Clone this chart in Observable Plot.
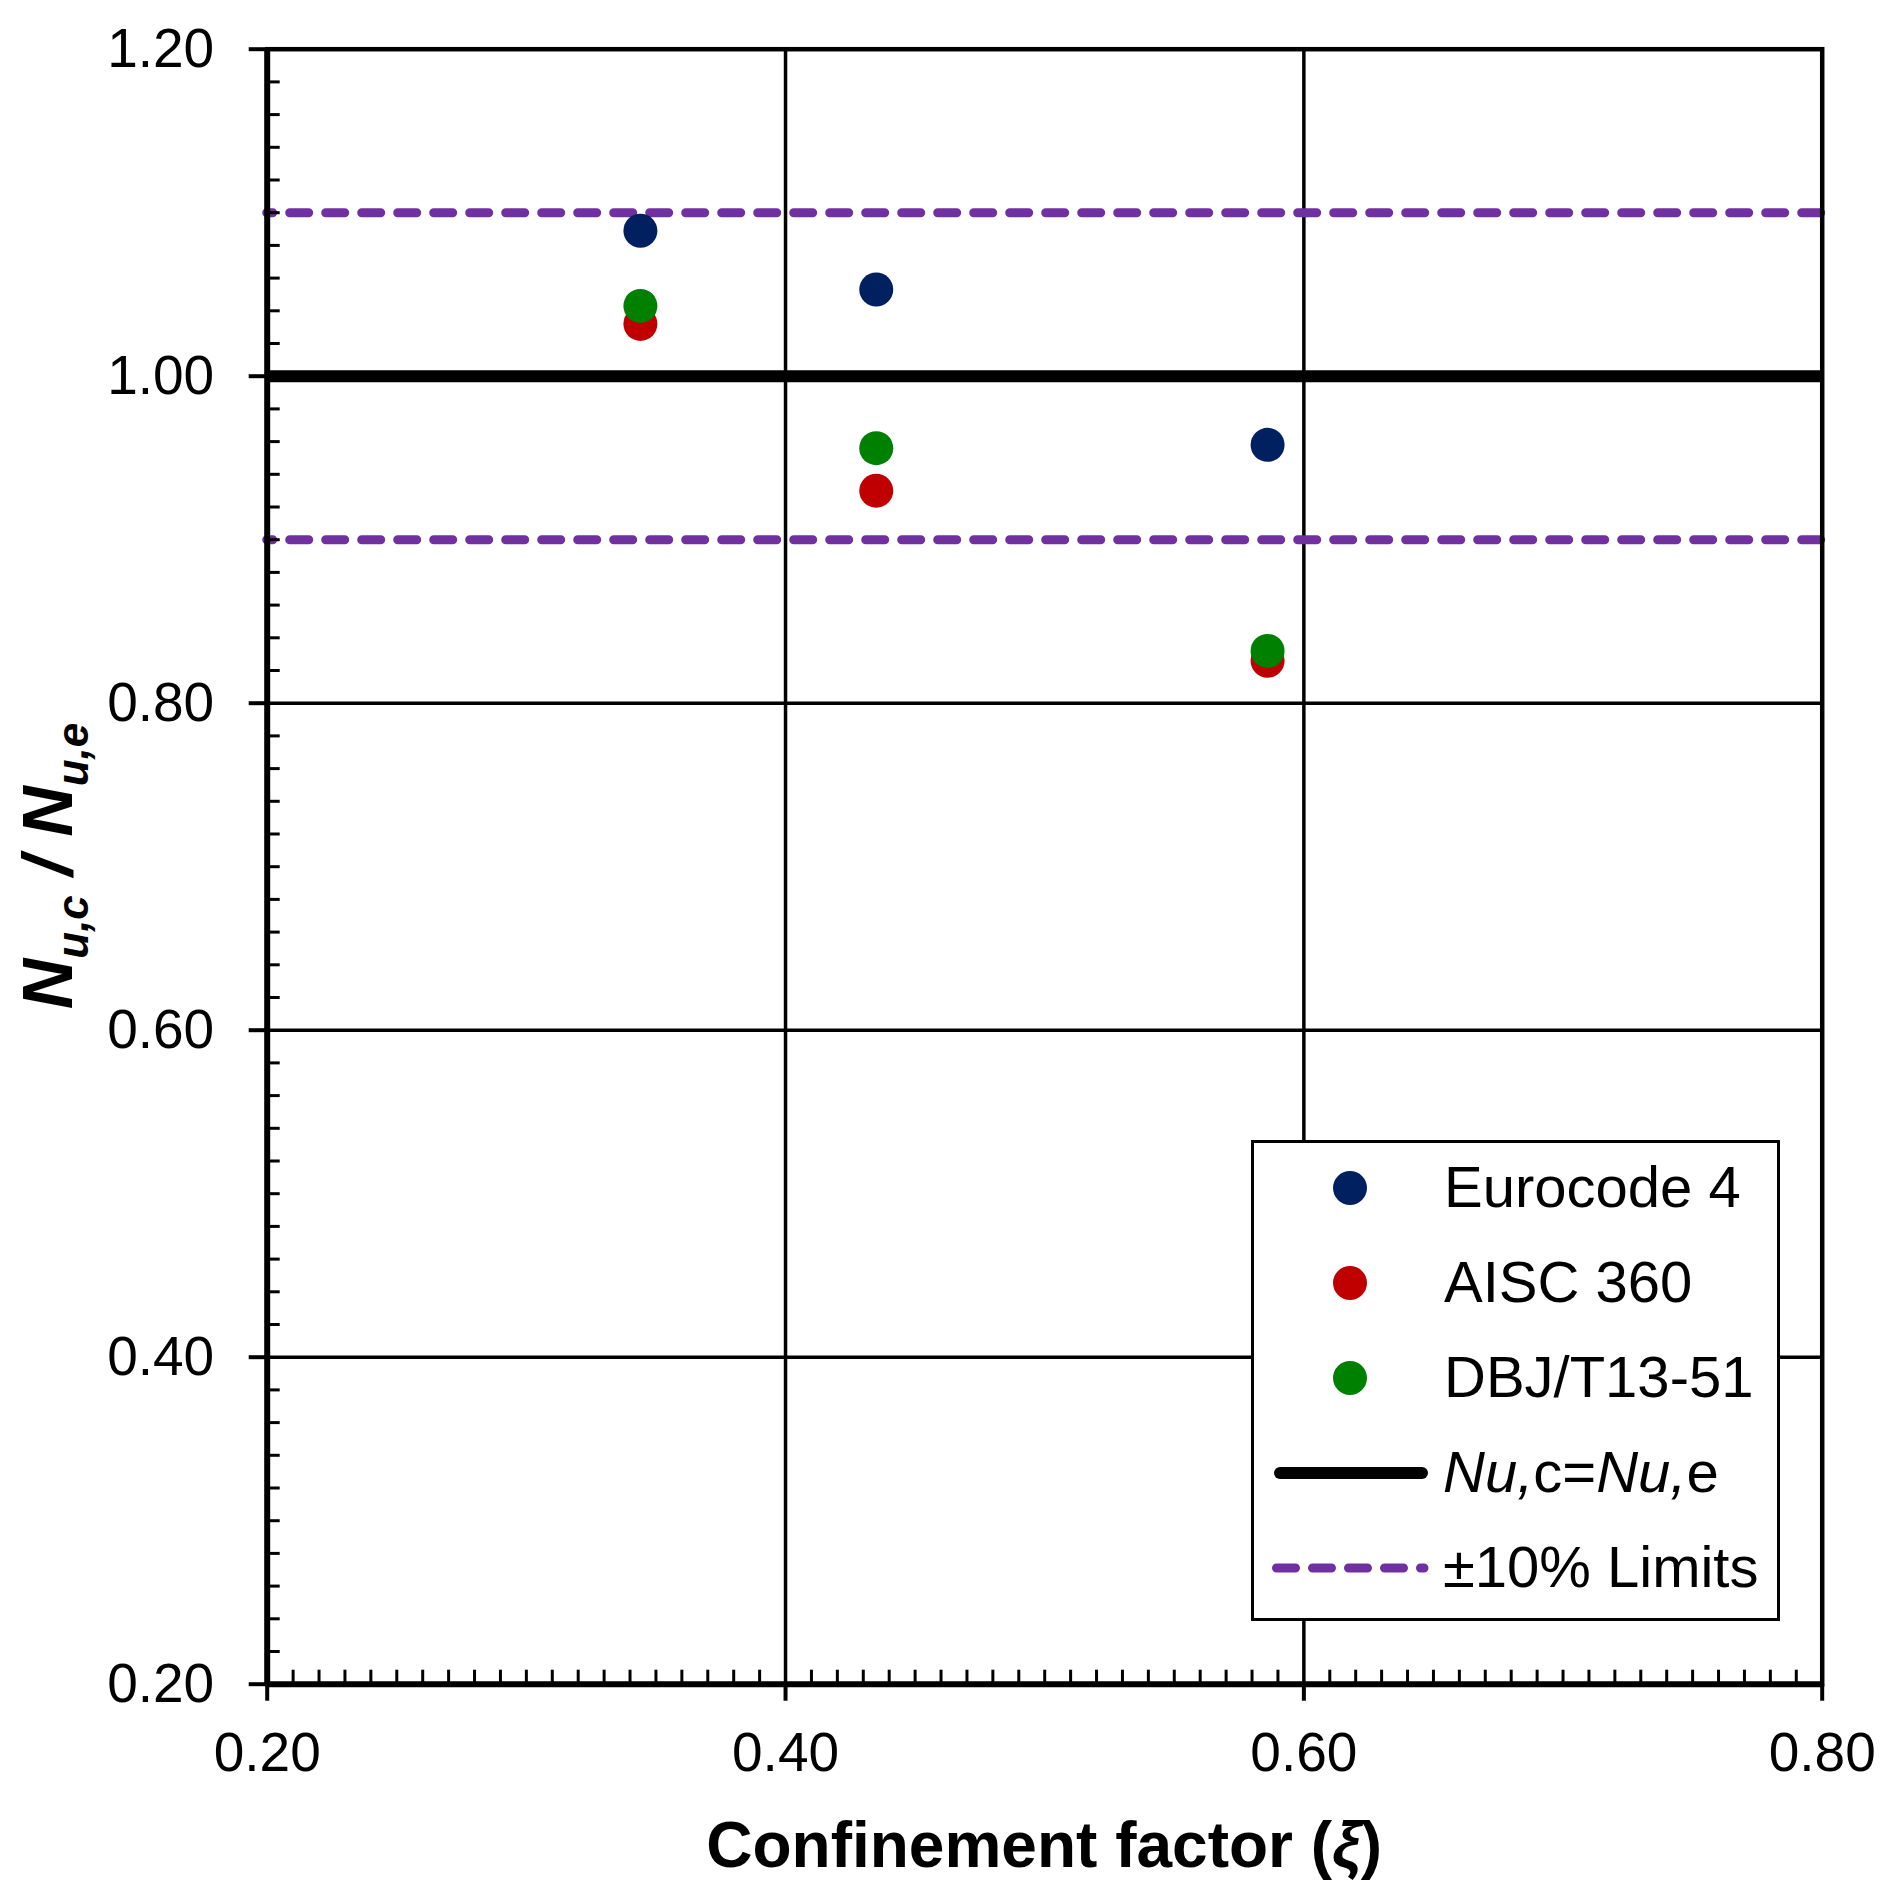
<!DOCTYPE html>
<html><head><meta charset="utf-8">
<script src="https://cdn.jsdelivr.net/npm/d3@7"></script>
<script src="https://cdn.jsdelivr.net/npm/@observablehq/plot@0.6"></script>
<style>html,body{margin:0;padding:0;background:#fff;overflow:hidden}</style>
</head><body><div id="chart"></div>
<script>
// ---- data ----
const xi = [0.344, 0.435, 0.586];
const eurocode4 = [1.089, 1.053, 0.958];
const aisc360 = [1.032, 0.930, 0.826];
const dbjT1351 = [1.043, 0.956, 0.832];
const seriesNames = ["Eurocode 4", "AISC 360", "DBJ/T13-51"];
const seriesColors = ["#002060", "#C00000", "#008000"];
const equalityLine = [1.0];
const limitLines = [0.9, 1.1];
const xTicks = [0.2, 0.4, 0.6, 0.8];
const yTicks = [0.2, 0.4, 0.6, 0.8, 1.0, 1.2];
const xGrid = [0.4, 0.6];
const yGrid = [0.4, 0.6, 0.8, 1.0];
const xMinor = d3.range(21, 80).filter(i => i % 20 !== 0).map(i => i / 100);
const yMinor = d3.range(11, 60).filter(i => i % 10 !== 0).map(i => i / 50);
const xTitle = "Confinement factor (";
const xTitleSymbol = "ξ";
const legendLineLabel = ["Nu,", "c=", "Nu,", "e"];
const legendLimitLabel = "±10% Limits";

const seriesValues = [eurocode4, aisc360, dbjT1351];
const rows = seriesNames.flatMap((s, k) => xi.map((x, i) => ({series: s, x, y: seriesValues[k][i]})));

const FONT = "'Liberation Sans', Arial, sans-serif";
const W = 1891, H = 1895;

const plot = Plot.plot({
  width: W, height: H,
  marginLeft: 266.7, marginRight: 69.3, marginTop: 48.7, marginBottom: 211.3,
  style: {fontFamily: FONT, fontSize: "55px", color: "black", background: "white", overflow: "visible"},
  x: {domain: [0.2, 0.8]},
  y: {domain: [0.2, 1.2]},
  color: {domain: seriesNames, range: seriesColors},
  marks: [
    Plot.gridX(xGrid, {stroke: "black", strokeOpacity: 1, strokeWidth: 3.5}),
    Plot.gridY(yGrid, {stroke: "black", strokeOpacity: 1, strokeWidth: 3.5}),
    Plot.ruleY(limitLines, {stroke: "#7030A0", strokeWidth: 9, strokeDasharray: "19,17", strokeDashoffset: 13, strokeLinecap: "round"}),
    Plot.ruleY(equalityLine, {stroke: "black", strokeWidth: 12}),
    Plot.frame({stroke: "black", strokeWidth: 4.5}),
    Plot.ruleX([0.2], {stroke: "black", strokeWidth: 6}),
    Plot.ruleY([0.2], {stroke: "black", strokeWidth: 6}),
    Plot.axisY(yTicks, {tickSize: 18, tickPadding: 35, tickFormat: d3.format(".2f"), strokeWidth: 4, fontSize: 55, label: null}),
    Plot.axisY(yMinor, {tickSize: -13, tickFormat: () => "", strokeWidth: 3, label: null}),
    Plot.axisX(xTicks, {tickSize: 17, tickPadding: 31, tickFormat: d3.format(".2f"), strokeWidth: 4, fontSize: 55, label: null}),
    Plot.axisX(xMinor, {tickSize: -14, tickFormat: () => "", strokeWidth: 3, label: null}),
    Plot.dot(rows, {x: "x", y: "y", fill: "series", r: 17, stroke: "none"})
  ]
});
document.getElementById("chart").appendChild(plot);

const svg = d3.select(plot);
const xs = plot.scale("x");
const cx = (xs.apply(0.2) + xs.apply(0.8)) / 2;

// x title
const xt = svg.append("text").attr("x", cx).attr("y", 1867).attr("text-anchor", "middle")
  .attr("font-family", FONT).attr("font-weight", "bold").attr("font-size", 64).attr("fill", "black");
xt.append("tspan").text(xTitle);
xt.append("tspan").attr("font-style", "italic").text(xTitleSymbol);
xt.append("tspan").text(")");

// y title
const yt = svg.append("text").attr("transform", "translate(72,866) rotate(-90)").attr("text-anchor", "middle")
  .attr("font-family", FONT).attr("font-weight", "bold").attr("font-style", "italic").attr("font-size", 70).attr("fill", "black");
yt.append("tspan").text("N");
yt.append("tspan").attr("font-size", 44).attr("dy", 16).text("u,c");
yt.append("tspan").attr("dy", -16).text(" / N");
yt.append("tspan").attr("font-size", 44).attr("dy", 16).text("u,e");

// legend
const lg = svg.append("g").attr("font-family", FONT).attr("font-size", 58).attr("fill", "black").attr("text-anchor", "start");
lg.append("rect").attr("x", 1252.5).attr("y", 1141.5).attr("width", 526).attr("height", 478)
  .attr("fill", "white").attr("stroke", "black").attr("stroke-width", 3);
const rowY = [1188, 1283, 1378, 1473, 1568];
seriesNames.forEach((s, k) => {
  lg.append("circle").attr("cx", 1350).attr("cy", rowY[k]).attr("r", 17).attr("fill", seriesColors[k]);
  lg.append("text").attr("x", 1444).attr("y", rowY[k] + 19).attr("text-anchor", "start").text(s);
});
lg.append("line").attr("x1", 1280).attr("x2", 1422).attr("y1", rowY[3]).attr("y2", rowY[3])
  .attr("stroke", "black").attr("stroke-width", 12).attr("stroke-linecap", "round");
const t4 = lg.append("text").attr("x", 1443).attr("y", rowY[3] + 19).attr("text-anchor", "start");
legendLineLabel.forEach((p, i) => t4.append("tspan").attr("font-style", i % 2 === 0 ? "italic" : "normal").text(p));
lg.append("line").attr("x1", 1276.5).attr("x2", 1424).attr("y1", rowY[4]).attr("y2", rowY[4])
  .attr("stroke", "#7030A0").attr("stroke-width", 9).attr("stroke-dasharray", "19,17").attr("stroke-linecap", "round");
lg.append("text").attr("x", 1443).attr("y", rowY[4] + 19).attr("text-anchor", "start").text(legendLimitLabel);
</script>
</body></html>
